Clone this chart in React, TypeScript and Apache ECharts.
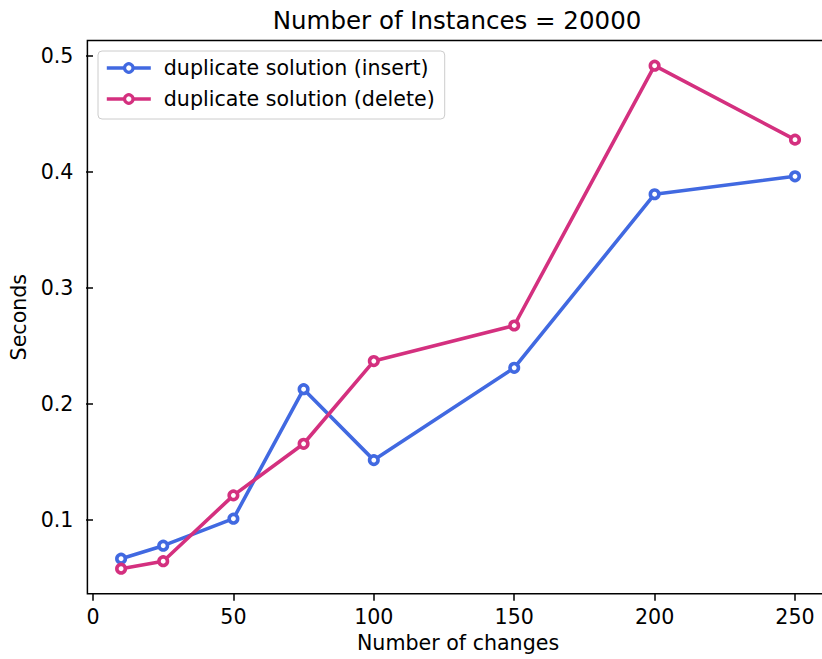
import React, { useEffect, useRef } from "react";
import * as echarts from "echarts";

// Number of changes applied per run
const changes = [10, 25, 50, 75, 100, 150, 200, 250];
// Runtime in seconds for each kind of duplicate solution
const insertSeconds = [0.0664, 0.0776, 0.1009, 0.2126, 0.1514, 0.231, 0.3807, 0.3962];
const deleteSeconds = [0.0578, 0.0642, 0.121, 0.1655, 0.2368, 0.2675, 0.4916, 0.4278];

const xTicks = [0, 50, 100, 150, 200, 250];
const yTicks = [0.1, 0.2, 0.3, 0.4, 0.5];

const seriesNames = ["duplicate solution (insert)", "duplicate solution (delete)"];
const title = "Number of Instances = 20000";
const xName = "Number of changes";
const yName = "Seconds";

const BLUE = "#4169e1";
const PINK = "#d4307f";
const FONT = "DejaVu Sans";
const LABEL_SIZE = 20.6;

// 5% padding around the data range on both axes
function paddedRange(values: number[]): [number, number] {
  const lo = Math.min(...values);
  const hi = Math.max(...values);
  const pad = (hi - lo) * 0.05;
  return [lo - pad, hi + pad];
}

export default function App() {
  const ref = useRef<HTMLDivElement>(null);

  useEffect(() => {
    if (!ref.current) return;
    const chart = echarts.init(ref.current, null, { renderer: "svg" });
    const [xMin, xMax] = paddedRange(changes);
    const [yMin, yMax] = paddedRange([...insertSeconds, ...deleteSeconds]);

    const makeSeries = (name: string, values: number[], color: string) => ({
      name,
      type: "line",
      data: changes.map((c, i) => [c, values[i]]),
      symbol: "circle",
      symbolSize: 8.5,
      showAllSymbol: true,
      lineStyle: { color, width: 3.6 },
      itemStyle: { color: "#ffffff", borderColor: color, borderWidth: 3.6 },
      emphasis: { disabled: true },
      z: 3,
    });

    chart.setOption({
      animation: false,
      textStyle: { fontFamily: FONT },
      graphic: [
        {
          type: "text",
          x: 457,
          y: 20,
          style: {
            text: title,
            fontFamily: FONT,
            fontSize: 24.5,
            fill: "#000",
            align: "center",
            verticalAlign: "middle",
          },
        },
      ],
      grid: {
        left: 87.4,
        top: 40.5,
        width: 741.3,
        height: 553.3,
        show: true,
        borderColor: "#000",
        borderWidth: 1.5,
        backgroundColor: "transparent",
        containLabel: false,
        outerBoundsMode: "none",
      },
      legend: {
        orient: "vertical",
        left: 98,
        top: 51,
        data: seriesNames,
        itemWidth: 44,
        itemHeight: 10.6,
        itemGap: 7,
        padding: [5, 10, 8, 7],
        backgroundColor: "#ffffff",
        borderColor: "#cccccc",
        borderWidth: 1,
        borderRadius: 4,
        selectedMode: false,
        lineStyle: { width: 3.6 },
        itemStyle: { borderWidth: 3.2 },
        textStyle: {
          fontFamily: FONT,
          fontSize: LABEL_SIZE,
          color: "#000",
          lineHeight: 24,
          padding: [0, 0, 0, 8],
        },
      },
      xAxis: {
        type: "value",
        min: xMin,
        max: xMax,
        name: xName,
        nameLocation: "middle",
        nameGap: 35,
        nameTextStyle: { fontFamily: FONT, fontSize: LABEL_SIZE, color: "#000" },
        axisLine: { show: false },
        splitLine: { show: false },
        axisTick: {
          show: true,
          inside: false,
          length: 7,
          lineStyle: { color: "#000", width: 1.5 },
          customValues: xTicks,
        },
        axisLabel: {
          fontFamily: FONT,
          fontSize: LABEL_SIZE,
          color: "#000",
          margin: 13,
          customValues: xTicks,
          formatter: (v: number) => String(v),
        },
      },
      yAxis: {
        type: "value",
        min: yMin,
        max: yMax,
        name: yName,
        nameLocation: "middle",
        nameGap: 55,
        nameTextStyle: { fontFamily: FONT, fontSize: LABEL_SIZE, color: "#000" },
        axisLine: { show: false },
        splitLine: { show: false },
        axisTick: {
          show: true,
          inside: false,
          length: 7,
          lineStyle: { color: "#000", width: 1.5 },
          customValues: yTicks,
        },
        axisLabel: {
          fontFamily: FONT,
          fontSize: LABEL_SIZE,
          color: "#000",
          margin: 14,
          customValues: yTicks,
          formatter: (v: number) => v.toFixed(1),
        },
      },
      series: [
        makeSeries(seriesNames[0], insertSeconds, BLUE),
        makeSeries(seriesNames[1], deleteSeconds, PINK),
      ],
    });

    return () => chart.dispose();
  }, []);

  return (
    <div
      style={{
        position: "absolute",
        left: 0,
        top: 0,
        width: 822,
        height: 659,
        overflow: "hidden",
        background: "#fff",
      }}
    >
      <div ref={ref} style={{ width: 830, height: 659 }} />
    </div>
  );
}
